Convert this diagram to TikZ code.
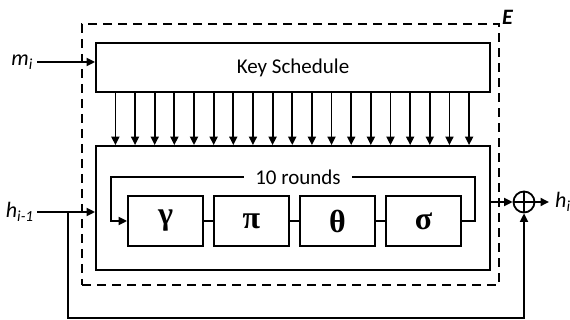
\documentclass[tikz,border=0pt]{standalone}
\usepackage{fontspec}
\setmainfont{Carlito}
\newfontfamily\grk{Liberation Serif}
\usetikzlibrary{arrows.meta,calc}
\begin{document}
\begin{tikzpicture}[x=1pt,y=-1pt,
  ln/.style={line width=1.8pt},
  arr/.style={ln,-{Triangle[length=8.5pt,width=8pt]}},
  blk/.style={draw,ln,rectangle,inner sep=0pt,anchor=center},
  rbox/.style={blk,minimum width=75pt,minimum height=50pt,font=\grk\bfseries\fontsize{32}{34}\selectfont},
  lbl/.style={font=\fontsize{22}{24}\selectfont,inner sep=0pt}]
\useasboundingbox (0,0) rectangle (570,320);
\node[blk,dash pattern=on 9pt off 6pt,line width=1.6pt,minimum width=417pt,minimum height=261pt] (E) at (290.5,154.5) {};
\node[lbl,font=\fontsize{22}{24}\selectfont\bfseries\itshape,anchor=south west] (El) at (502,25) {E};
\node[blk,minimum width=394pt,minimum height=49pt,font=\fontsize{21}{23}\selectfont] (ks) at (293,67.5) {Key Schedule};
\node[blk,minimum width=394pt,minimum height=124pt] (big) at (293,208) {};
\foreach \k in {0,...,18}{
  \draw[arr] ($(ks.south west)+(20.3+\k*19.65,0)$) coordinate (t\k) -- (t\k |- big.north);
}
\node[rbox] (g) at (165.5,221) {γ};
\node[rbox] (p) at (251.5,221) {π};
\node[rbox] (t) at (337.5,221) {θ};
\node[rbox] (s) at (423.5,221) {σ};
\draw[ln] (g.east) -- (p.west) (p.east) -- (t.west) (t.east) -- (s.west);
\node[lbl,font=\fontsize{21}{23}\selectfont,minimum width=108pt] (r) at (298,177) {10 rounds};
\coordinate (lt) at (111,177);
\coordinate (rt) at (475,177);
\draw[ln] (s.east) -| (rt) -- (r.east);
\draw[arr] (r.west) -- (lt) |- (g.west);
% inputs
\node[lbl,anchor=east] (mi) at (33,62) {\textit{m}\textsubscript{\textit{i}}};
\draw[arr] (37,62) coordinate (mis) -- (mis -| ks.west);
\node[lbl,anchor=east] (hi1) at (34,212) {\textit{h}\textsubscript{\textit{i-1}}};
\draw[arr] (37,212) coordinate (his) -- (his -| big.west);
% xor
\node[draw,ln,circle,minimum size=21pt,inner sep=0pt] (x) at (524,202) {};
\draw[ln] (x.north) -- (x.south) (x.west) -- (x.east);
\draw[arr] (x.west -| big.east) -- (x.west);
\coordinate (ho) at (549,202);
\draw[arr] (x.east) -- (ho);
\node[lbl,anchor=west] (hi) at (555,202) {\textit{h}\textsubscript{\textit{i}}};
\coordinate (br) at (68,212);
\coordinate (bb) at (68,318);
\draw[arr] (br) -- (bb) -| (x.south);
\end{tikzpicture}
\end{document}
